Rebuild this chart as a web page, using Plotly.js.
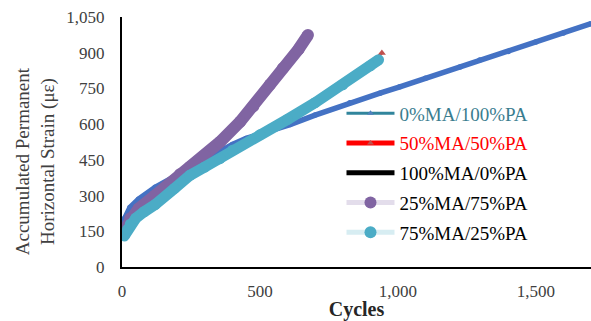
<!DOCTYPE html>
<html>
<head>
<meta charset="utf-8">
<script src="https://cdn.plot.ly/plotly-3.0.1.min.js"></script>
<style>html,body{margin:0;padding:0;background:#fff;}#chart{width:591px;height:321px;}</style>
</head>
<body>
<div id="chart"></div>
<script>
// Series names (legend order)
const seriesNames = ["0%MA/100%PA", "50%MA/50%PA", "100%MA/0%PA", "25%MA/75%PA", "75%MA/25%PA"];

// 0%MA/100%PA
const cyclesA = [0, 10, 29, 60, 120, 210, 300, 367, 400, 450, 500, 550, 609, 700, 826, 935, 1007, 1100, 1225, 1297, 1400, 1500, 1600, 1700];
const strainA = [165, 205, 250, 285, 335, 394, 450, 498, 515, 540, 558, 577, 598, 638, 690, 730, 757, 793, 840, 869, 905, 945, 983, 1022];

// 50%MA/50%PA
const cyclesB = [0, 50, 100, 200, 300, 400, 500, 600, 700, 800, 900, 942];
const strainB = [150, 205, 245, 335, 415, 485, 552, 618, 690, 768, 852, 899];

// 100%MA/0%PA
const cyclesC = [0, 50, 100, 200, 300, 400, 500, 600, 700, 800];
const strainC = [140, 202, 242, 330, 412, 482, 550, 616, 687, 762];

// 25%MA/75%PA
const cyclesD = [5, 30, 60, 120, 174, 210, 246, 300, 355, 428, 476, 536, 583, 640, 674];
const strainD = [150, 205, 245, 300, 350, 390, 420, 468, 525, 610, 675, 765, 835, 915, 974];

// 75%MA/25%PA
const cyclesE = [8, 20, 30, 50, 80, 120, 190, 246, 300, 355, 400, 500, 600, 700, 800, 900, 930];
const strainE = [130, 158, 180, 205, 232, 262, 330, 385, 420, 455, 490, 555, 620, 690, 765, 845, 870];

// Axis ticks
const xTicks = [0, 500, 1000, 1500];
const xTickLabels = ["0", "500", "1,000", "1,500"];
const yTicks = [0, 150, 300, 450, 600, 750, 900, 1050];
const yTickLabels = ["0", "150", "300", "450", "600", "750", "900", "1,050"];

const FONT = "Liberation Serif, Times New Roman, serif";

const traces = [
  {x: cyclesC, y: strainC, mode: "lines", line: {color: "#000000", width: 2}, showlegend: false, hoverinfo: "skip"},
  {x: cyclesB, y: strainB, mode: "lines+markers", line: {color: "#C0504D", width: 3}, marker: {symbol: "triangle-up", size: 7, color: "#C0504D"}, showlegend: false, hoverinfo: "skip"},
  {x: cyclesA, y: strainA, mode: "lines+markers", line: {color: "#4472C4", width: 5.5}, marker: {symbol: "circle", size: 5.5, color: "#4472C4"}, showlegend: false, hoverinfo: "skip"},
  {x: cyclesD, y: strainD, mode: "lines+markers", line: {color: "#8064A2", width: 12}, marker: {symbol: "circle", size: 12, color: "#8064A2"}, showlegend: false, hoverinfo: "skip"},
  {x: cyclesE, y: strainE, mode: "lines+markers", line: {color: "#4BACC6", width: 11}, marker: {symbol: "circle", size: 11, color: "#4BACC6"}, showlegend: false, hoverinfo: "skip"},
  // legend entries
  {x: [null], y: [null], name: '<span style="color:#3A7D8F">' + seriesNames[0] + '</span>', legendgroup: "a", mode: "lines+markers", line: {color: "#31859C", width: 3}, marker: {symbol: "triangle-up", size: 6, color: "#4F81BD"}},
  {x: [null], y: [null], name: '<span style="color:#FF0000">' + seriesNames[1] + '</span>', legendgroup: "b", mode: "lines+markers", line: {color: "#FF0000", width: 5}, marker: {symbol: "triangle-up", size: 6, color: "#C0504D"}},
  {x: [null], y: [null], name: seriesNames[2], legendgroup: "c", mode: "lines+markers", line: {color: "#000000", width: 5}, marker: {symbol: "triangle-up", size: 3, color: "#000000"}},
  {x: [null], y: [null], name: seriesNames[3], legendgroup: "d", mode: "lines+markers", line: {color: "rgba(128,100,162,0.22)", width: 5}, marker: {symbol: "circle", size: 12, color: "#8064A2"}},
  {x: [null], y: [null], name: seriesNames[4], legendgroup: "e", mode: "lines+markers", line: {color: "rgba(75,172,198,0.22)", width: 5}, marker: {symbol: "circle", size: 12, color: "#4BACC6"}}
];

const layout = {
  width: 591, height: 321,
  margin: {l: 122, r: 0, t: 17, b: 54},
  paper_bgcolor: "#ffffff", plot_bgcolor: "#ffffff",
  font: {family: FONT, size: 17, color: "#404040"},
  showlegend: true,
  legend: {x: 0.468, y: 0.69, xanchor: "left", yanchor: "top", bgcolor: "rgba(0,0,0,0)", font: {family: FONT, size: 19, color: "#000000"}, itemwidth: 48, tracegroupgap: 2, traceorder: "grouped"},
  xaxis: {
    range: [0, 1700], tickvals: xTicks, ticktext: xTickLabels,
    showgrid: false, zeroline: false, showline: true, linecolor: "#000000", linewidth: 2,
    ticks: "outside", ticklen: 8, tickcolor: "rgba(0,0,0,0)",
    tickfont: {family: FONT, size: 17, color: "#404040"},
    title: {text: "<b>Cycles</b>", font: {family: FONT, size: 20, color: "#262626"}, standoff: 0}
  },
  yaxis: {
    range: [0, 1050], tickvals: yTicks, ticktext: yTickLabels,
    showgrid: false, zeroline: false, showline: true, linecolor: "#000000", linewidth: 2,
    ticks: "outside", ticklen: 12, tickcolor: "rgba(0,0,0,0)",
    tickfont: {family: FONT, size: 17, color: "#404040"}
  },
  annotations: [{
    text: "Accumulated Permanent<br>Horizontal Strain (\u03bc\u03b5)",
    xref: "paper", yref: "paper", x: -0.185, y: 0.424, xanchor: "center", yanchor: "middle",
    textangle: -90, showarrow: false,
    font: {family: FONT, size: 19, color: "#404040"}
  }],
  hovermode: false
};

Plotly.newPlot("chart", traces, layout, {staticPlot: true, displayModeBar: false});
</script>
</body>
</html>
